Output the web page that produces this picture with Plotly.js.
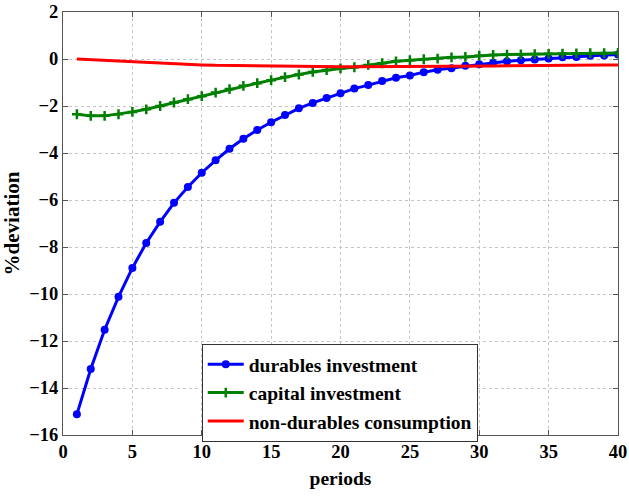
<!DOCTYPE html>
<html><head><meta charset="utf-8">
<script src="https://cdn.plot.ly/plotly-3.0.1.min.js"></script>
<style>body{margin:0;background:#fff}#c{width:629px;height:497px}</style>
</head><body><div id="c"></div>
<script>
const periods = Array.from({length:40},(_,i)=>i+1);
const durables = [-15.12,-13.19,-11.52,-10.12,-8.89,-7.83,-6.93,-6.12,-5.45,-4.84,
  -4.31,-3.82,-3.39,-3.02,-2.69,-2.38,-2.10,-1.87,-1.66,-1.46,
  -1.26,-1.11,-0.94,-0.80,-0.70,-0.56,-0.46,-0.39,-0.29,-0.22,
  -0.16,-0.10,-0.05,-0.02,0.02,0.07,0.09,0.14,0.15,0.19];
const capital = [-2.35,-2.42,-2.42,-2.35,-2.25,-2.14,-2.00,-1.85,-1.71,-1.58,
  -1.43,-1.28,-1.14,-1.03,-0.90,-0.77,-0.66,-0.55,-0.47,-0.40,
  -0.35,-0.25,-0.18,-0.10,-0.05,-0.01,0.02,0.07,0.09,0.14,
  0.17,0.19,0.20,0.21,0.22,0.23,0.24,0.25,0.25,0.26];
const nondurables = [0,-0.03,-0.07,-0.10,-0.13,-0.16,-0.19,-0.21,-0.23,-0.25,
  -0.27,-0.28,-0.29,-0.30,-0.31,-0.32,-0.32,-0.33,-0.33,-0.33,
  -0.33,-0.33,-0.33,-0.33,-0.32,-0.32,-0.32,-0.31,-0.31,-0.30,
  -0.30,-0.29,-0.29,-0.28,-0.28,-0.27,-0.27,-0.26,-0.26,-0.25];
const names = ['durables investment','capital investment','non-durables consumption'];
const xTicks = [0,5,10,15,20,25,30,35,40];
const yTicks = [2,0,-2,-4,-6,-8,-10,-12,-14,-16];

const FAM = 'Liberation Serif, serif';
const traces = [
  {x:periods,y:durables,name:names[0],mode:'lines+markers',
   line:{color:'#0000ff',width:3},marker:{symbol:'circle',size:8,color:'#0000ff'}},
  {x:periods,y:capital,name:names[1],mode:'lines+markers',
   line:{color:'#008000',width:3},marker:{symbol:'cross-thin',size:7,line:{color:'#008000',width:2.5},color:'#008000'}},
  {x:periods,y:nondurables,name:names[2],mode:'lines',
   line:{color:'#ff0000',width:3}}
];
const axisCommon = {showline:true,mirror:'ticks',linecolor:'#555',linewidth:1,
  ticks:'inside',ticklen:5,tickcolor:'#555',showgrid:true,gridcolor:'#c4c4c4',griddash:'dot',gridwidth:1,
  zeroline:false,tickfont:{family:FAM,size:18.5,color:'#000',weight:'bold'}};
const layout = {
  width:629,height:497,paper_bgcolor:'#fff',plot_bgcolor:'#fff',
  margin:{l:63,r:10.5,t:12,b:62},
  font:{family:FAM,size:16,color:'#000'},
  xaxis:Object.assign({},axisCommon,{range:[0,40],tickvals:xTicks,
    title:{text:'periods',font:{family:FAM,size:19.5,color:'#000',weight:'bold'},standoff:10}}),
  yaxis:Object.assign({},axisCommon,{range:[-16,2],tickvals:yTicks,
    title:{text:'%deviation',font:{family:FAM,size:21,color:'#000',weight:'bold'},standoff:6}}),
  showlegend:true,
  legend:{x:0.25,y:0.215,xanchor:'left',yanchor:'top',bgcolor:'#fff',bordercolor:'#333',borderwidth:1,
    font:{family:FAM,size:19.5,color:'#000',weight:'bold'},tracegroupgap:0,itemwidth:36}
};
Plotly.newPlot('c',traces,layout,{staticPlot:true});
</script></body></html>
